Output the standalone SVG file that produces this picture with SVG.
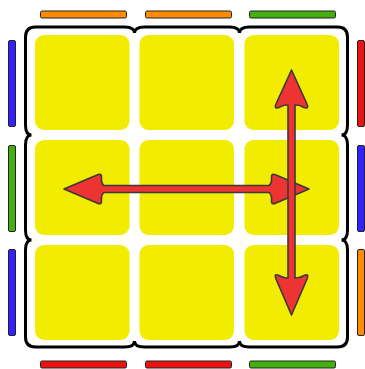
<svg xmlns="http://www.w3.org/2000/svg" width="365" height="369" viewBox="0 0 365 369">
<style>
.st{fill:#F2EC00}
.bar{stroke:#222;stroke-width:1}
.o{fill:#FF8C00}.b{fill:#3322FF}.g{fill:#44B010}.r{fill:#EE1111}
.arrow{fill:#EE3333;stroke:#3a3a3a;stroke-width:1.6;stroke-linejoin:round}
</style>
<rect width="365" height="369" fill="#fff"/>
<g id="frame">
<path d="M25.5,37 Q25.5,27 35.5,27 H124.5 Q134.5,27 134.5,33 Q134.5,27 144.5,27 H229.5 Q239.5,27 239.5,33 Q239.5,27 249.5,27 H337.5 Q347.5,27 347.5,37 V125 Q347.5,135 341.5,135 Q347.5,135 347.5,145 V230 Q347.5,240 341.5,240 Q347.5,240 347.5,250 V337 Q347.5,347 337.5,347 H249.5 Q239.5,347 239.5,341 Q239.5,347 229.5,347 H144.5 Q134.5,347 134.5,341 Q134.5,347 124.5,347 H35.5 Q25.5,347 25.5,337 V250 Q25.5,240 31.5,240 Q25.5,240 25.5,230 V145 Q25.5,135 31.5,135 Q25.5,135 25.5,125 Z" fill="#fff" stroke="#000" stroke-width="3"/>
</g>
<g id="stickers">
<rect id="s1" class="st" x="35" y="35" width="94.5" height="95" rx="9"/>
<rect id="s2" class="st" x="139.5" y="35" width="94.5" height="95" rx="9"/>
<rect id="s3" class="st" x="244.5" y="35" width="94.5" height="95" rx="9"/>
<rect id="s4" class="st" x="35" y="140" width="94.5" height="95" rx="9"/>
<rect id="s5" class="st" x="139.5" y="140" width="94.5" height="95" rx="9"/>
<rect id="s6" class="st" x="244.5" y="140" width="94.5" height="95" rx="9"/>
<rect id="s7" class="st" x="35" y="245" width="94.5" height="95" rx="9"/>
<rect id="s8" class="st" x="139.5" y="245" width="94.5" height="95" rx="9"/>
<rect id="s9" class="st" x="244.5" y="245" width="94.5" height="95" rx="9"/>
</g>
<g id="top-bars">
<rect class="bar o" x="40.5" y="11" width="86" height="7" rx="1.5"/>
<rect class="bar o" x="145.5" y="11" width="86" height="7" rx="1.5"/>
<rect class="bar g" x="249.5" y="11" width="86" height="7" rx="1.5"/>
</g>
<g id="left-bars">
<rect class="bar b" x="8.5" y="40.5" width="7" height="86" rx="1.5"/>
<rect class="bar g" x="8.5" y="145.5" width="7" height="86" rx="1.5"/>
<rect class="bar b" x="8.5" y="249.5" width="7" height="86" rx="1.5"/>
</g>
<g id="right-bars">
<rect class="bar r" x="357.5" y="40.5" width="7" height="86" rx="1.5"/>
<rect class="bar b" x="357.5" y="145.5" width="7" height="86" rx="1.5"/>
<rect class="bar o" x="357.5" y="249.5" width="7" height="86" rx="1.5"/>
</g>
<g id="bottom-bars">
<rect class="bar r" x="40.5" y="361" width="86" height="7" rx="1.5"/>
<rect class="bar r" x="145.5" y="361" width="86" height="7" rx="1.5"/>
<rect class="bar g" x="249.5" y="361" width="86" height="7" rx="1.5"/>
</g>
<g id="connectors">
<path class="arrow" d="M64,189 L97,175 Q102,172.5 101.5,178 Q101,183 104,185.5 H269 Q272,183 271.5,178 Q271,172.5 276,175 L309,189 L276,203 Q271,205.5 271.5,200 Q272,195 269,192.5 H104 Q101,195 101.5,200 Q102,205.5 97,203 Z"/>
<path class="arrow" d="M291.5,70 L307,104 Q309.5,109 304,107.5 Q299,104.5 295,105 V278 Q299,278.5 304,275.5 Q309.5,273 307,279 L291.5,315 L276,279 Q273.5,273 279,275.5 Q284,278.5 288,278 V105 Q284,104.5 279,107.5 Q273.5,109 276,104 Z"/>
</g>
</svg>
